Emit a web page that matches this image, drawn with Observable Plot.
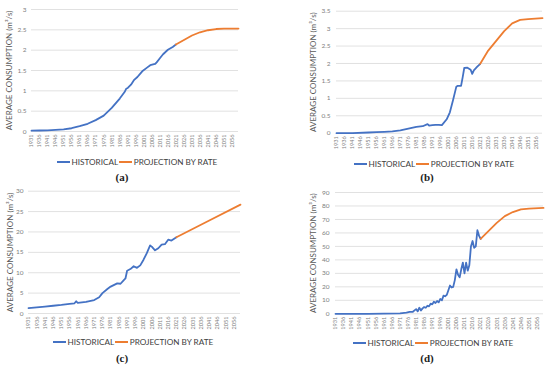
<!DOCTYPE html>
<html>
<head>
<meta charset="utf-8">
<script src="https://cdn.jsdelivr.net/npm/d3@7"></script>
<script src="https://cdn.jsdelivr.net/npm/@observablehq/plot@0.6"></script>
<style>
  html, body { margin: 0; padding: 0; background: #fff; }
  #root { position: relative; width: 550px; height: 367px; overflow: hidden; font-family: Lato, "Open Sans", sans-serif; }
  .panel { position: absolute; }
  .legend { position: absolute; display: flex; align-items: center; height: 12px; font-size: 8.2px; color: #404040; white-space: nowrap; }
  .sw { display: inline-block; width: 13px; height: 2px; margin: 0 1.5px 0 1px; }
  .caption { position: absolute; font-family: "Liberation Serif", serif; font-weight: bold; font-size: 11px; color: #222; transform: translateX(-50%); }
</style>
</head>
<body>
<div id="root"></div>
<script>
// ---------- data ----------
const seriesNames = ["HISTORICAL", "PROJECTION BY RATE"];
const yTitle = "AVERAGE CONSUMPTION (m³/s)";
const captions = ["(a)", "(b)", "(c)", "(d)"];
const xTickYears = d3.range(1931, 2057, 5);

const histYearsA = [1931,1936,1941,1946,1951,1956,1961,1966,1971,1976,1981,1986,1989,1990,1991,1993,1995,1997,2000,2003,2005,2008,2009,2011,2013,2016,2019,2021];
const histValsA  = [0.02,0.025,0.03,0.04,0.05,0.08,0.13,0.19,0.28,0.39,0.58,0.81,0.97,1.05,1.07,1.15,1.27,1.34,1.48,1.57,1.63,1.66,1.7,1.8,1.9,2.01,2.08,2.14];
const projYearsA = [2021,2026,2031,2036,2041,2046,2051,2060];
const projValsA  = [2.14,2.25,2.36,2.44,2.49,2.52,2.53,2.53];
const yTicksA = [0,0.5,1,1.5,2,2.5,3];

const histYearsB = [1931,1941,1951,1956,1961,1966,1971,1976,1981,1985,1988,1989,1991,1993,1995,1997,2000,2002,2004,2006,2007,2009,2010,2011,2013,2015,2016,2017,2019,2021];
const histValsB  = [0,0.005,0.02,0.03,0.04,0.05,0.08,0.13,0.18,0.2,0.26,0.22,0.23,0.24,0.24,0.23,0.4,0.6,0.95,1.33,1.36,1.36,1.6,1.87,1.88,1.82,1.7,1.8,1.9,1.99];
const projYearsB = [2021,2026,2031,2036,2041,2046,2051,2060];
const projValsB  = [1.99,2.37,2.65,2.93,3.15,3.25,3.27,3.30];
const yTicksB = [0,0.5,1,1.5,2,2.5,3,3.5];

const histYearsC = [1931,1936,1941,1946,1951,1956,1959,1960,1961,1966,1971,1974,1976,1979,1981,1985,1987,1989,1990,1991,1993,1995,1997,1999,2001,2003,2005,2006,2008,2010,2012,2014,2016,2018,2021];
const histValsC  = [1.3,1.5,1.7,1.9,2.1,2.35,2.5,3.0,2.6,2.85,3.3,4.0,5.0,6.0,6.6,7.4,7.3,8.2,8.6,10.5,10.9,11.6,11.2,11.8,13.2,14.8,16.7,16.4,15.5,16.0,16.9,17.0,18.1,17.9,18.7];
const projYearsC = [2021,2041,2060];
const projValsC  = [18.7,22.8,26.7];
const yTicksC = [0,5,10,15,20,25,30];

const histYearsD = [1931,1941,1951,1961,1971,1975,1977,1979,1980,1981,1982,1983,1984,1985,1986,1987,1988,1989,1990,1991,1992,1993,1994,1995,1996,1997,1998,1999,2000,2001,2002,2003,2004,2005,2006,2007,2008,2009,2010,2011,2012,2013,2014,2015,2016,2017,2018,2019,2020,2021];
const histValsD  = [0,0,0,0.1,0.3,0.8,1.5,1.5,2.5,3.5,1.8,4.5,2.5,4.0,5.0,4.5,6,5.5,7.5,7,9,8,9.5,8.5,11,10,13.5,13,14,17.5,21,19.5,20,25,33,29,27,33,38,30,38,32,36,50,54,49,50,62,58,55.6];
const projYearsD = [2021,2026,2031,2036,2041,2046,2051,2060];
const projValsD  = [55.6,61.5,67.5,72.5,75.5,77.5,78.1,78.6];
const yTicksD = [0,10,20,30,40,50,60,70,80,90];

const colors = ["#4472C4", "#ED7D31"];

// ---------- layout ----------
const panels = [
  {hy: histYearsA, hv: histValsA, py: projYearsA, pv: projValsA, yt: yTicksA, left: 0,   top: 0,   h: 152, mL: 31, mR: 37, mT: 9,    mB: 21,   tOff: 22,   yPad: 5, leg: [56, 162],  cap: [122, 171]},
  {hy: histYearsB, hv: histValsB, py: projYearsB, pv: projValsB, yt: yTicksB, left: 275, top: 0,   h: 154, mL: 61, mR: 8,  mT: 10.7, mB: 21.3, tOff: 22.7, yPad: 6, leg: [353, 164], cap: [427, 171]},
  {hy: histYearsC, hv: histValsC, py: projYearsC, pv: projValsC, yt: yTicksC, left: 0,   top: 180, h: 155, mL: 28, mR: 35, mT: 10.7, mB: 22,   tOff: 18,   yPad: 5, leg: [52, 342],  cap: [122, 352]},
  {hy: histYearsD, hv: histValsD, py: projYearsD, pv: projValsD, yt: yTicksD, left: 275, top: 180, h: 155, mL: 60, mR: 7,  mT: 12,   mB: 21.7, tOff: 22.3, yPad: 6, leg: [352, 343], cap: [427, 352]}
];

const root = document.getElementById("root");

panels.forEach((p, i) => {
  const hist = p.hy.map((y, k) => ({year: y, value: p.hv[k]}));
  const proj = p.py.map((y, k) => ({year: y, value: p.pv[k]}));
  const chart = Plot.plot({
    width: 275,
    height: p.h,
    marginLeft: p.mL,
    marginRight: p.mR,
    marginTop: p.mT,
    marginBottom: p.mB,
    style: {fontFamily: "Lato, 'Open Sans', sans-serif", background: "transparent", overflow: "visible"},
    x: {domain: [1931, 2060]},
    y: {domain: [0, p.yt[p.yt.length - 1]]},
    marks: [
      Plot.gridY(p.yt, {stroke: "#d9d9d9", strokeOpacity: 1, strokeWidth: 0.8}),
      Plot.axisY(p.yt, {tickSize: 0, tickPadding: p.yPad, fontSize: 6.5, fill: "#808080", label: null, tickFormat: d => String(d)}),
      Plot.axisX(xTickYears, {tickSize: 0, tickRotate: -90, tickPadding: 3, fontSize: 5.6, fill: "#808080", label: null, tickFormat: d => String(d)}),
      Plot.line(hist, {x: "year", y: "value", stroke: colors[0], strokeWidth: 1.8}),
      Plot.line(proj, {x: "year", y: "value", stroke: colors[1], strokeWidth: 1.8}),
      Plot.text([yTitle], {frameAnchor: "left", dx: -p.tOff, rotate: -90, textAnchor: "middle", fontSize: 8, fill: "#595959"})
    ]
  });
  const wrap = document.createElement("div");
  wrap.className = "panel";
  wrap.style.left = p.left + "px";
  wrap.style.top = p.top + "px";
  wrap.appendChild(chart);
  root.appendChild(wrap);

  const leg = document.createElement("div");
  leg.className = "legend";
  leg.style.left = p.leg[0] + "px";
  leg.style.top = (p.leg[1] - 6) + "px";
  seriesNames.forEach((name, k) => {
    const sw = document.createElement("span");
    sw.className = "sw";
    sw.style.background = colors[k];
    leg.appendChild(sw);
    const t = document.createElement("span");
    t.textContent = name;
    leg.appendChild(t);
  });
  root.appendChild(leg);

  const cap = document.createElement("div");
  cap.className = "caption";
  cap.style.left = p.cap[0] + "px";
  cap.style.top = p.cap[1] + "px";
  cap.textContent = captions[i];
  root.appendChild(cap);
});
</script>
</body>
</html>
